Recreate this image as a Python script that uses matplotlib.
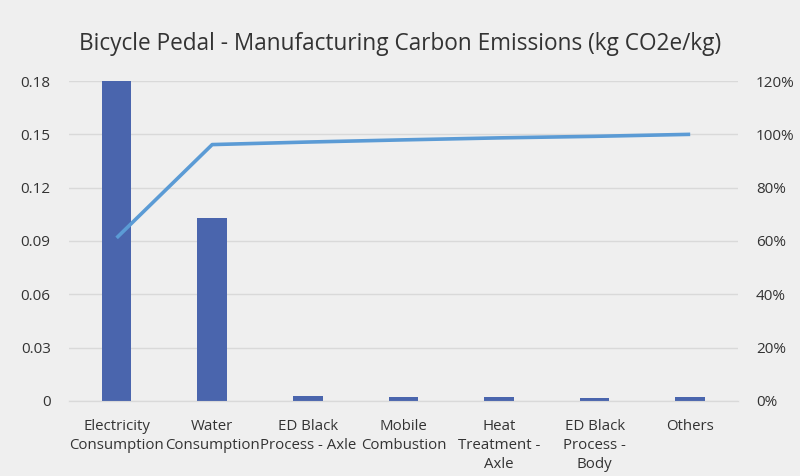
import numpy as np
import matplotlib.pyplot as plt
from matplotlib.ticker import FuncFormatter, MultipleLocator

TITLE = "Bicycle Pedal - Manufacturing Carbon Emissions (kg CO2e/kg)"

categories = [
    "Electricity\nConsumption",
    "Water\nConsumption",
    "ED Black\nProcess - Axle",
    "Mobile\nCombustion",
    "Heat\nTreatment -\nAxle",
    "ED Black\nProcess -\nBody",
    "Others",
]
emissions = [0.180, 0.103, 0.0028, 0.0024, 0.0022, 0.0017, 0.0022]

BAR_COLOR = "#4a65ad"
LINE_COLOR = "#5b9bd5"
BG = "#efefef"
TEXT = "#333333"

plt.rcParams["font.family"] = ["Open Sans", "DejaVu Sans"]

values = np.array(emissions)
cumulative = np.cumsum(values) / values.sum() * 100
x = np.arange(len(categories))

fig = plt.figure(figsize=(8, 4.76), dpi=100, facecolor=BG)
ax = fig.add_axes([0.086, 0.1576, 0.8365, 0.6722], facecolor=BG)
ax2 = ax.twinx()

ax.bar(x, values, width=0.31, color=BAR_COLOR, zorder=3)
ax.set_xlim(-0.5, len(categories) - 0.5)
ax.set_ylim(0, 0.18)
ax.yaxis.set_major_locator(MultipleLocator(0.03))
ax.yaxis.set_major_formatter(FuncFormatter(lambda v, p: "0" if v == 0 else f"{v:.2f}"))
ax.grid(axis="y", color="#d9d9d9", linewidth=1, zorder=0)
ax.set_xticks(x)
ax.set_xticklabels(categories, fontsize=10.8, color=TEXT, linespacing=1.38)

ax2.plot(x, cumulative, color=LINE_COLOR, linewidth=2.6, solid_capstyle="butt", zorder=4)
ax2.set_ylim(0, 120)
ax2.yaxis.set_major_locator(MultipleLocator(20))
ax2.yaxis.set_major_formatter(FuncFormatter(lambda v, p: f"{v:.0f}%"))

for a in (ax, ax2):
    for side in ("top", "left", "right"):
        a.spines[side].set_visible(False)
    a.spines["bottom"].set_color("#d9d9d9")
    a.tick_params(length=0, labelsize=11, labelcolor=TEXT)
ax.tick_params(axis="y", pad=13)
ax.tick_params(axis="x", pad=13, labelsize=10.8)
ax2.tick_params(axis="y", pad=13)

fig.text(0.5, 0.908, TITLE, ha="center", va="center", fontsize=16.3, color=TEXT)

fig.savefig("out.png", dpi=100, facecolor=BG)
